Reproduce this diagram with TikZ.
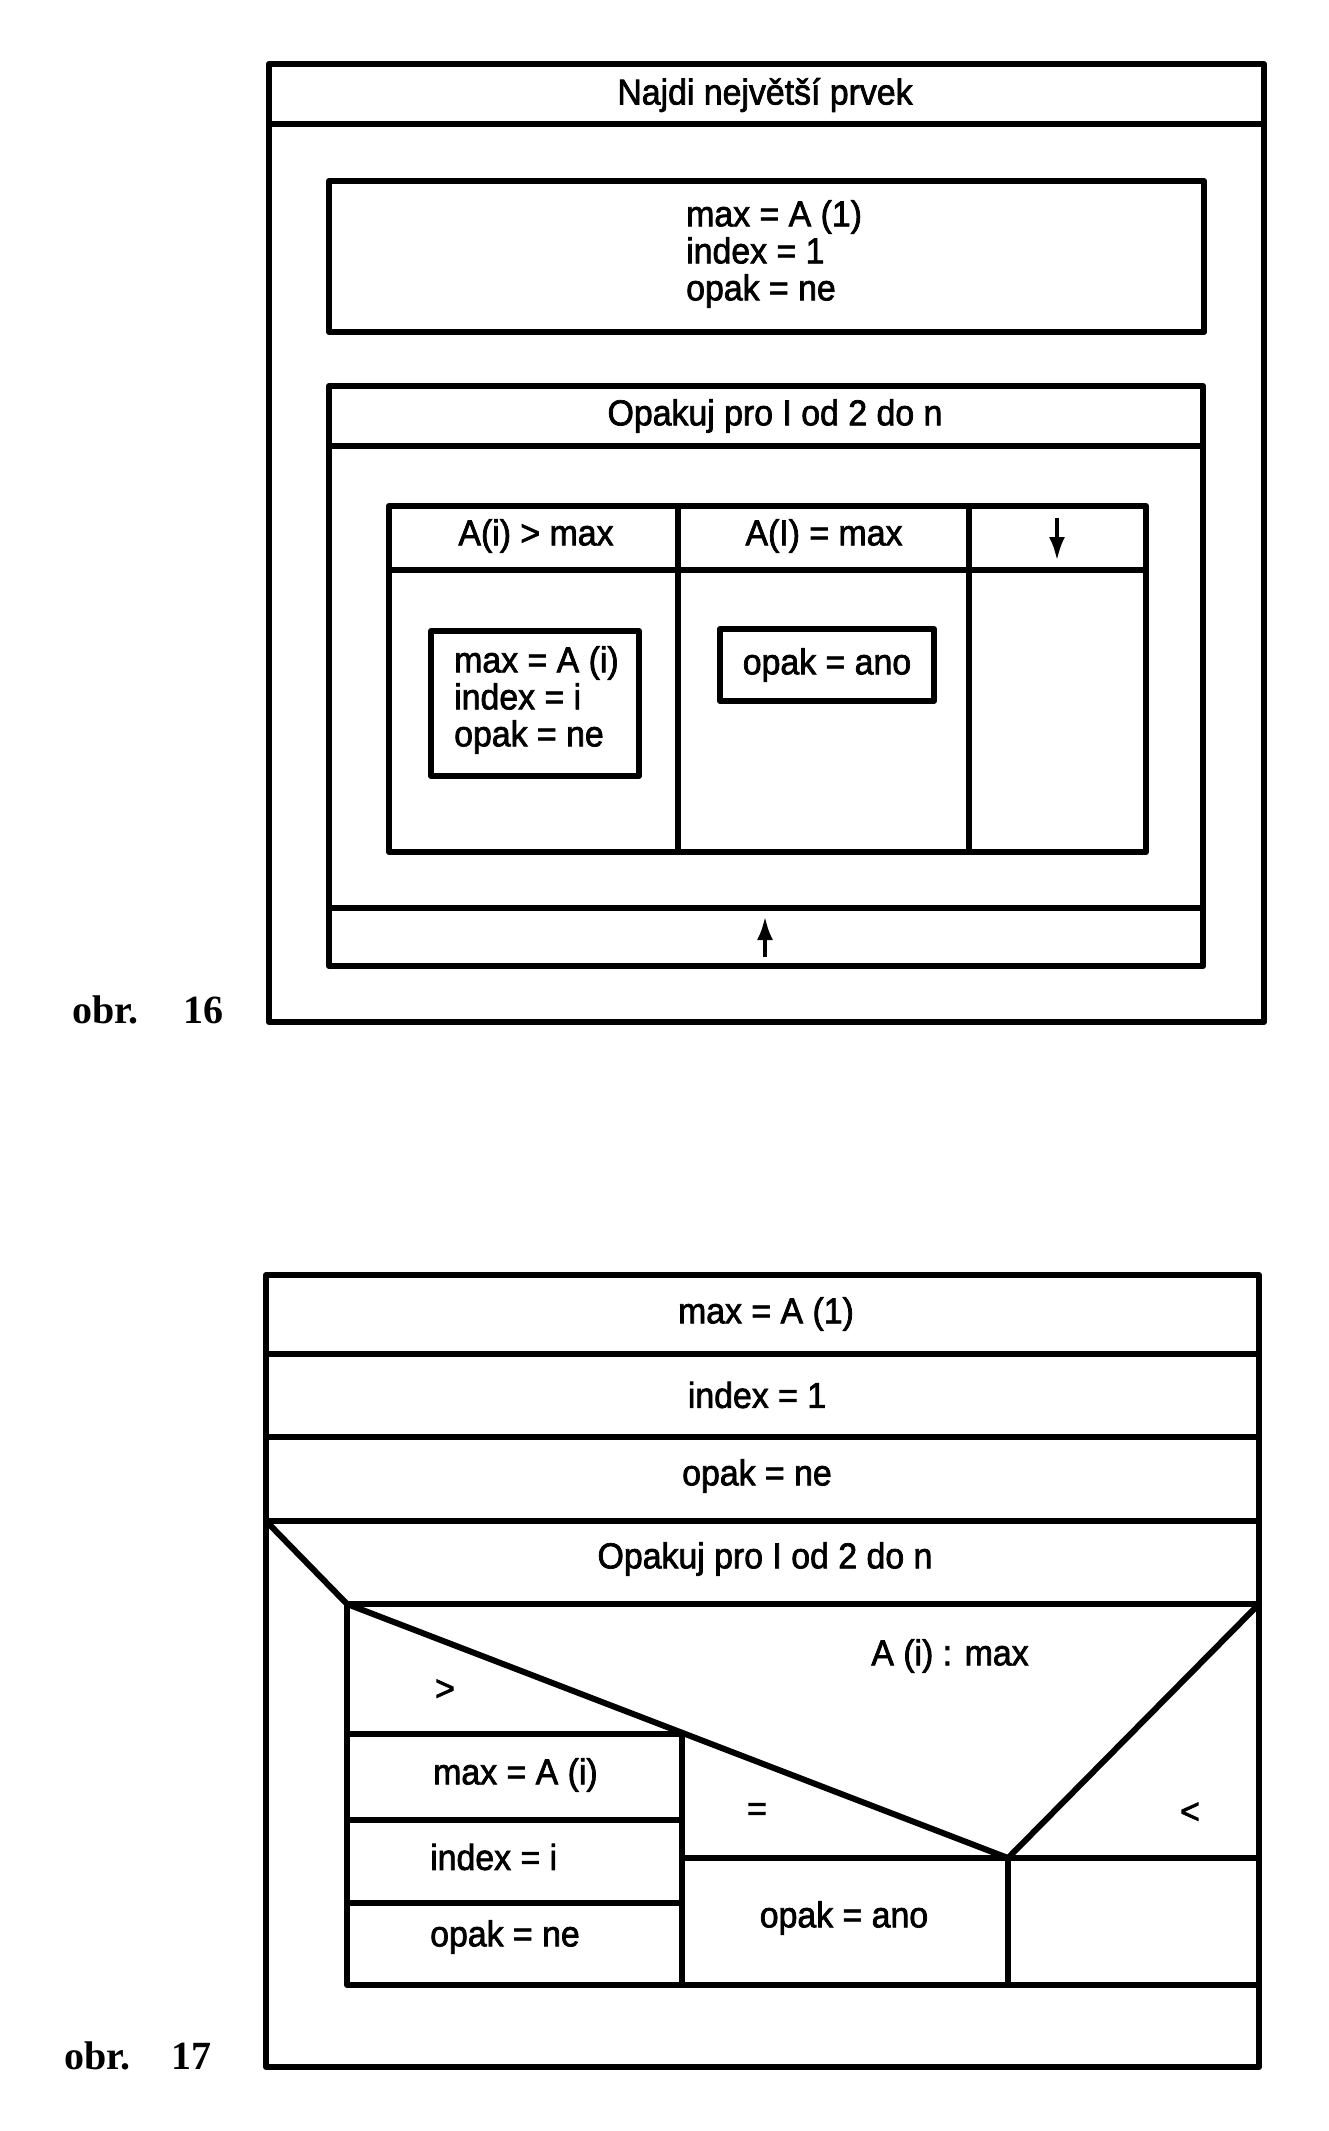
\documentclass[tikz,border=0pt]{standalone}
\usepackage{fontspec}
\setmainfont{Liberation Sans}[FakeStretch=0.94,FakeBold=2]
\newfontfamily\obrfont{Liberation Serif}
\usetikzlibrary{arrows.meta}
\tikzset{
  box/.style={draw, line width=6pt, line cap=round, line join=round},
  lbl/.style={font=\fontsize{36}{37}\selectfont, inner sep=0pt},
  obr/.style={font=\obrfont\bfseries\fontsize{40}{44}\selectfont, inner sep=0pt, anchor=base west},
  arr/.style={line width=4.5pt, -{Latex[length=24pt,width=16pt]}}
}
\begin{document}
\begin{tikzpicture}[x=1pt,y=-1pt]
\useasboundingbox (0,0) rectangle (1328,2131);
% ---------- obr. 16 ----------
\draw[box] (269,64) rectangle (1264,1022);
\draw[box] (269,124) -- (1264,124);
\node[lbl] (t16) at (765,95) {Najdi největší prvek};
\draw[box] (329,181) rectangle (1204,332);
\node[lbl, align=left, anchor=west] (init16) at (686,254) {max = A (1)\\index = 1\\opak = ne};
\draw[box] (329,386) rectangle (1203,966);
\draw[box] (329,446) -- (1203,446);
\node[lbl] (loop16) at (775,416) {Opakuj pro I od 2 do n};
\draw[box] (329,908) -- (1203,908);
\coordinate (upS) at (765,957);
\coordinate (upE) at (765,916);
\draw[arr] (upS) -- (upE);
\draw[box] (389,506) rectangle (1146,852);
\draw[box] (389,570) -- (1146,570);
\draw[box] (678,506) -- (678,852);
\draw[box] (969,506) -- (969,852);
\node[lbl] (c1) at (536,536) {A(i) > max};
\node[lbl] (c2) at (824,536) {A(I) = max};
\coordinate (dnS) at (1057,518);
\coordinate (dnE) at (1057,561);
\draw[arr] (dnS) -- (dnE);
\draw[box] (431,631) rectangle (639,776);
\node[lbl, align=left, anchor=west] (b1) at (454,700) {max = A (i)\\index = i\\opak = ne};
\draw[box] (720,629) rectangle (934,701);
\node[lbl] (b2) at (827,665) {opak = ano};
\node[obr] (o16a) at (72,1023) {obr.};
\node[obr] (o16b) at (183,1023) {16};
% ---------- obr. 17 ----------
\draw[box] (266,1275) rectangle (1259,2067);
\draw[box] (266,1354) -- (1259,1354);
\draw[box] (266,1437) -- (1259,1437);
\draw[box] (266,1521) -- (1259,1521);
\node[lbl] (r1) at (766,1314) {max = A (1)};
\node[lbl] (r2) at (757,1395) {index = 1};
\node[lbl] (r3) at (757,1476) {opak = ne};
\node[lbl] (r4) at (765,1559) {Opakuj pro I od 2 do n};
\draw[box] (266,1521) -- (347,1604);
\draw[box] (347,1604) -- (1259,1604);
\draw[box] (347,1604) -- (347,1985) -- (1259,1985);
\draw[box] (347,1604) -- (1008,1858) -- (1259,1604);
\draw[box] (682,1858) -- (1259,1858);
\draw[box] (1008,1858) -- (1008,1985);
\draw[box] (682,1734) -- (682,1985);
\draw[box] (347,1734) -- (682,1734);
\draw[box] (347,1820) -- (682,1820);
\draw[box] (347,1903) -- (682,1903);
\node[lbl] (cond) at (950,1656) {A (i) : max};
\node[lbl] (gt) at (445,1690) {>};
\node[lbl] (eq) at (757,1812) {=};
\node[lbl] (lt) at (1190,1813) {<};
\node[lbl, anchor=west] (s1) at (433,1775) {max = A (i)};
\node[lbl, anchor=west] (s2) at (430,1857) {index = i};
\node[lbl, anchor=west] (s3) at (430,1937) {opak = ne};
\node[lbl] (s4) at (844,1918) {opak = ano};
\node[obr] (o17a) at (64,2069) {obr.};
\node[obr] (o17b) at (171,2069) {17};
\end{tikzpicture}
\end{document}
